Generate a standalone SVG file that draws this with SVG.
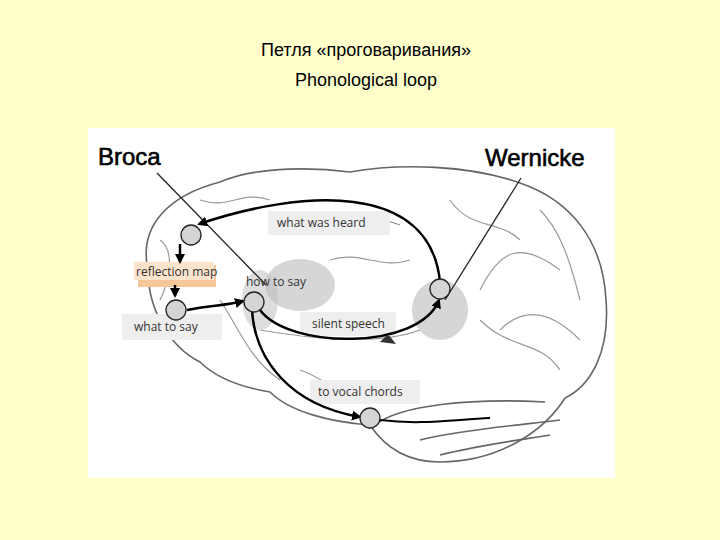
<svg xmlns="http://www.w3.org/2000/svg" width="720" height="540" viewBox="0 0 720 540">
<defs>
<style>
.t{font-family:"Liberation Sans",Arial,sans-serif;fill:#000}
.lbl{font-family:"Open Sans","Liberation Sans",sans-serif;font-size:12px;fill:#333}
.box{fill:#eeeeee}
.nd{fill:#d4d4d4;stroke:#222;stroke-width:1.3}
.ar{fill:none;stroke:#000;stroke-width:2.5}
.br{fill:none;stroke:#666;stroke-width:1.6}
.g{fill:none;stroke:#999;stroke-width:1.2}
</style>
<marker id="a" viewBox="0 0 10 10" refX="8" refY="5" markerWidth="4" markerHeight="4" orient="auto"><path d="M0,0L10,5L0,10z" fill="#000"/></marker>
</defs>
<rect width="720" height="540" fill="#ffffcc"/>
<text class="t" x="366" y="56" font-size="18" text-anchor="middle">Петля «проговаривания»</text>
<text class="t" x="366" y="86" font-size="18" text-anchor="middle">Phonological loop</text>
<rect x="88" y="128" width="527" height="350" fill="#fff"/>
<g id="brain">
<path class="br" d="M148,270 C138,225 170,195 220,182 C260,165 320,168 350,172 C400,163 470,165 520,183 C570,200 603,240 606,300 C610,350 592,385 565,398 C545,430 500,462 440,462 C400,462 380,440 370,425 C330,422 290,412 270,392 C240,387 215,377 200,362 C170,347 148,310 148,270 Z"/>
<path class="br" d="M375,425 C400,405 470,398 545,402 M420,440 C460,430 520,425 560,420 M440,455 C480,445 520,440 550,435"/>
<path class="g" d="M260,330 C320,340 380,345 420,330 M480,290 C500,250 520,240 560,270 M300,215 C330,230 360,210 400,225 M450,200 C470,230 500,220 520,240 M220,300 C240,330 250,360 280,380 M480,320 C510,350 540,340 560,370 M330,260 C360,250 380,270 410,260 M540,210 C560,230 570,260 580,300 M300,370 C330,380 340,400 370,400 M200,200 C230,210 240,190 270,200 M160,240 C175,250 170,280 160,300 M500,330 C530,300 560,320 580,340"/>
<ellipse cx="300" cy="285" rx="35" ry="26" fill="#bbb" opacity="0.6"/>
<ellipse cx="260" cy="300" rx="18" ry="30" fill="#bbb" opacity="0.5"/>
<ellipse cx="440" cy="310" rx="28" ry="30" fill="#bbb" opacity="0.6"/>
<path d="M380,342 l8,-8 l8,10 z" fill="#333"/>
</g>
<g id="pointers">
<text class="t" x="98" y="165" font-size="24" stroke="#000" stroke-width="0.6">Broca</text>
<text class="t" x="485" y="166" font-size="24" stroke="#000" stroke-width="0.6">Wernicke</text>
<line x1="157" y1="173" x2="266" y2="285" stroke="#222" stroke-width="1.3"/>
<line x1="521" y1="178" x2="445" y2="300" stroke="#222" stroke-width="1.3"/>
</g>
<g id="labels">
<rect class="box" x="268" y="211" width="122" height="24"/><text class="lbl" x="277" y="227">what was heard</text>
<rect x="138" y="265" width="78" height="22" fill="#f6c79a"/><rect x="134" y="262" width="80" height="18" fill="#fbe3cc"/><text class="lbl" x="136" y="276" font-size="11.5">reflection map</text>
<text class="lbl" x="246" y="286">how to say</text>
<rect class="box" x="122" y="314" width="100" height="26"/><text class="lbl" x="134" y="331">what to say</text>
<rect class="box" x="300" y="312" width="96" height="24"/><text class="lbl" x="312" y="328">silent speech</text>
<rect class="box" x="310" y="380" width="110" height="24"/><text class="lbl" x="318" y="396">to vocal chords</text>
</g>
<g id="connectors">
<path class="ar" marker-end="url(#a)" d="M440,282 C430,180 300,190 199,224"/>
<path class="ar" marker-end="url(#a)" d="M180,244 L180,262"/>
<path class="ar" marker-end="url(#a)" d="M175,285 L175,296"/>
<path class="ar" marker-end="url(#a)" d="M187,310 C210,305 225,306 243,301"/>
<path class="ar" marker-end="url(#a)" d="M260,310 C290,350 420,350 439,300"/>
<path class="ar" marker-end="url(#a)" d="M252,310 C255,360 290,405 360,417"/>
<path d="M380,420 C420,425 450,420 490,418" fill="none" stroke="#000" stroke-width="2"/>
</g>
<g id="n1"><circle class="nd" cx="191" cy="235" r="10"/></g>
<g id="n2"><circle class="nd" cx="176" cy="310" r="10"/></g>
<g id="n3"><circle class="nd" cx="254" cy="302" r="10"/></g>
<g id="n4"><circle class="nd" cx="440" cy="289" r="10"/></g>
<g id="n5"><circle class="nd" cx="370" cy="418" r="10"/></g>
</svg>
